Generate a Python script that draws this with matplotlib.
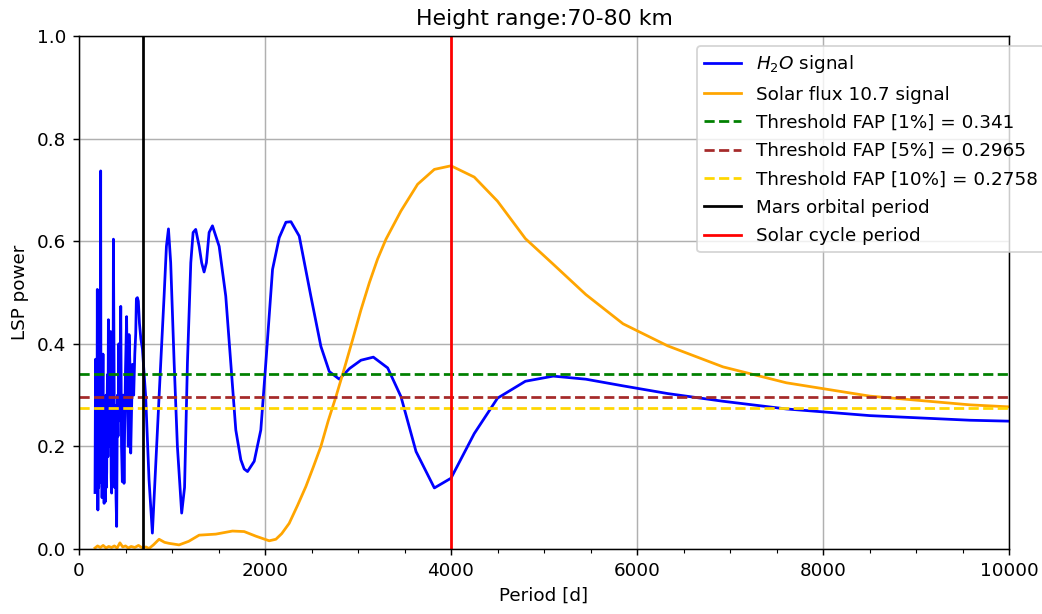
import matplotlib
matplotlib.use("Agg")
import matplotlib.pyplot as plt
from matplotlib.ticker import MultipleLocator

# ---- data ----
h2o_period = [172, 175, 178, 181, 184, 187, 190, 193, 197, 200, 203, 206, 209, 212, 215, 218,
              221, 224, 227, 230, 233, 236, 239, 242, 245, 248, 251, 255,
              258, 261, 264, 267, 270, 273, 276, 279, 282, 286, 290, 294, 298, 302, 306, 311,
              316, 319, 322, 326, 330, 335, 340, 343, 346, 351,
              358, 365, 370, 377, 384, 392, 398, 405, 413, 420, 428, 436, 443, 449,
              457, 466, 474, 484, 492, 500, 512, 520, 530, 538, 549, 556, 563, 575,
              588, 600, 610, 617, 628, 638, 650, 665, 682, 717, 753, 789, 843, 879,
              915, 940, 962, 986, 1023, 1058, 1104, 1135, 1166, 1202, 1227, 1255,
              1292, 1319, 1345, 1370, 1399, 1435, 1507, 1578, 1632, 1686, 1740, 1776,
              1812, 1884, 1955, 2009, 2081, 2153, 2225, 2279, 2368, 2493, 2601, 2691,
              2799, 2910, 3032, 3165, 3319, 3462, 3624, 3821, 4000, 4250, 4500, 4800,
              5100, 5450, 5850, 6330, 6925, 7606, 8504, 9580, 10980]
h2o_power = [0.11, 0.22, 0.37, 0.15, 0.12, 0.26, 0.30, 0.18, 0.506, 0.20, 0.076, 0.18, 0.25, 0.12, 0.16, 0.30,
             0.35, 0.14, 0.20, 0.32, 0.737, 0.25, 0.13, 0.22, 0.28, 0.10, 0.16, 0.30,
             0.38, 0.18, 0.12, 0.27, 0.089, 0.20, 0.25, 0.14, 0.092, 0.22, 0.30, 0.12, 0.15, 0.28, 0.34, 0.18,
             0.447, 0.30, 0.20, 0.33, 0.40, 0.25, 0.424, 0.30, 0.14, 0.109,
             0.30, 0.20, 0.604, 0.35, 0.12, 0.28, 0.10, 0.044, 0.30, 0.22, 0.40, 0.25, 0.38, 0.473,
             0.20, 0.131, 0.30, 0.128, 0.25, 0.35, 0.453, 0.30, 0.20, 0.418, 0.35, 0.187, 0.25, 0.36,
             0.30, 0.38, 0.42, 0.488, 0.490, 0.483, 0.44, 0.41, 0.39, 0.297, 0.135, 0.031, 0.232, 0.363,
             0.493, 0.590, 0.624, 0.558, 0.363, 0.200, 0.070, 0.12, 0.363, 0.558, 0.617, 0.623,
             0.590, 0.558, 0.540, 0.558, 0.617, 0.630, 0.590, 0.493, 0.363, 0.232, 0.174, 0.156,
             0.151, 0.171, 0.232, 0.363, 0.545, 0.607, 0.637, 0.638, 0.610, 0.493, 0.395, 0.346,
             0.331, 0.352, 0.368, 0.374, 0.353, 0.297, 0.190, 0.119, 0.138, 0.225, 0.294, 0.327,
             0.337, 0.331, 0.318, 0.303, 0.288, 0.273, 0.260, 0.251, 0.245]

solar_period = [172, 200, 230, 260, 290, 320, 350, 380, 410, 440, 470, 500, 530, 560, 600,
                640, 680, 720, 753, 800, 861, 920, 969, 1076, 1180, 1292, 1471, 1650, 1776,
                1902, 2045, 2117, 2180, 2260, 2350, 2440, 2520, 2601, 2680, 2763, 2850, 2942,
                3030, 3122, 3210, 3301, 3462, 3641, 3821, 4000, 4250, 4500, 4800, 5100, 5450,
                5850, 6330, 6925, 7606, 8504, 9580, 10980]
solar_power = [0.002, 0.006, 0.003, 0.007, 0.002, 0.005, 0.003, 0.006, 0.002, 0.012, 0.004, 0.006,
               0.002, 0.005, 0.003, 0.007, 0.002, 0.004, 0.001, 0.008, 0.019, 0.013, 0.011, 0.008,
               0.015, 0.027, 0.029, 0.035, 0.034, 0.025, 0.016, 0.019, 0.030, 0.050, 0.085, 0.122,
               0.160, 0.200, 0.250, 0.297, 0.350, 0.408, 0.465, 0.519, 0.565, 0.604, 0.659, 0.711,
               0.740, 0.747, 0.725, 0.678, 0.605, 0.555, 0.496, 0.439, 0.396, 0.355, 0.324, 0.298,
               0.281, 0.268]

fap_levels = [0.341, 0.2965, 0.2758]
fap_names = ["1%", "5%", "10%"]
fap_colors = ["green", "brown", "gold"]

mars_orbital_period = 687
solar_cycle_period = 4000

# ---- figure ----
W, H, DPI = 1042, 614, 132
fig = plt.figure(figsize=(W / DPI, H / DPI), dpi=DPI)
ax = fig.add_axes([79 / W, 1 - 549 / H, (1009 - 79) / W, (549 - 36) / H])

ax.plot(h2o_period, h2o_power, color="blue", label=r"$H_2O$ signal")
ax.plot(solar_period, solar_power, color="orange", label="Solar flux 10.7 signal")
for lvl, name, c in zip(fap_levels, fap_names, fap_colors):
    ax.axhline(lvl, color=c, linestyle="--", label=f"Threshold FAP [{name}] = {lvl}")
ax.axvline(mars_orbital_period, color="black", label="Mars orbital period")
ax.axvline(solar_cycle_period, color="red", label="Solar cycle period")

ax.set_xlim(0, 10000)
ax.set_ylim(0, 1)
ax.xaxis.set_minor_locator(MultipleLocator(500))
ax.grid(True)
ax.set_title("Height range:70-80 km")
ax.set_xlabel("Period [d]")
ax.set_ylabel("LSP power")

ax.legend(loc="upper left", bbox_to_anchor=(697 / W, 1 - 46 / H),
          bbox_transform=fig.transFigure, borderaxespad=0, labelspacing=0.56)

fig.savefig("out.png", dpi=DPI)
